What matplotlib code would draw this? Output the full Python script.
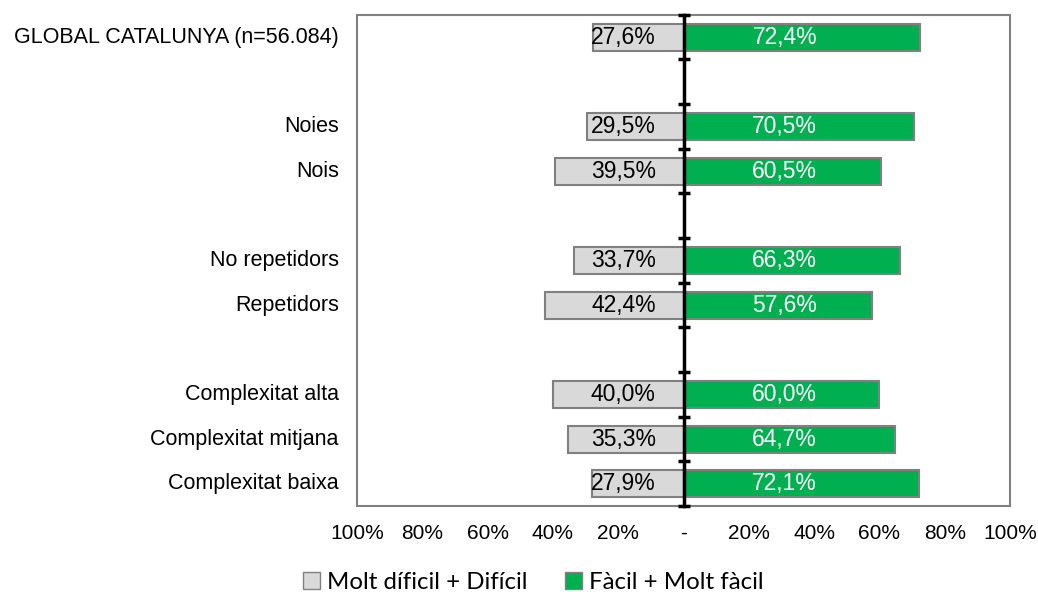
import matplotlib.pyplot as plt
from matplotlib.patches import Rectangle, Patch
from matplotlib.transforms import blended_transform_factory

# rows from top to bottom, '' = empty spacer row
categories = ['GLOBAL CATALUNYA (n=56.084)', '', 'Noies', 'Nois', '',
              'No repetidors', 'Repetidors', '',
              'Complexitat alta', 'Complexitat mitjana', 'Complexitat baixa']
dificil = [27.6, None, 29.5, 39.5, None, 33.7, 42.4, None, 40.0, 35.3, 27.9]
facil = [72.4, None, 70.5, 60.5, None, 66.3, 57.6, None, 60.0, 64.7, 72.1]
xticks = [-100, -80, -60, -40, -20, 0, 20, 40, 60, 80, 100]
xticklabels = ['100%', '80%', '60%', '40%', '20%', '-', '20%', '40%', '60%', '80%', '100%']
legend_labels = ['Molt díficil + Difícil', 'Fàcil + Molt fàcil']

grey = '#d9d9d9'
green = '#00b050'
edge = '#808080'

plt.rcParams['font.family'] = ['Liberation Sans', 'DejaVu Sans']

fig = plt.figure(figsize=(10.38, 5.92), dpi=100)
ax = fig.add_axes([0.344, 0.145, 0.629, 0.830])

for i, (d, f) in enumerate(zip(dificil, facil)):
    if d is None:
        continue
    ax.barh(i, -d, height=0.6, color=grey, edgecolor=edge, linewidth=1.5, zorder=2)
    ax.barh(i, f, height=0.6, color=green, edgecolor=edge, linewidth=1.5, zorder=2)
    ax.text(-8.5, i, ('%.1f%%' % d).replace('.', ','), ha='right', va='center',
            fontsize=16.5, color='black', zorder=3)
    ax.text(31, i, ('%.1f%%' % f).replace('.', ','), ha='center', va='center',
            fontsize=16.5, color='white', zorder=3)

ax.set_xlim(-100, 100)
ax.set_ylim(len(categories) - 0.5, -0.5)

# category labels on the left of the frame
trans = blended_transform_factory(ax.transAxes, ax.transData)
for i, c in enumerate(categories):
    if c:
        ax.text(-0.028, i, c, transform=trans, ha='right', va='center', fontsize=15.5)

# central axis with ticks at the row boundaries
for s in ['top', 'right', 'bottom']:
    ax.spines[s].set_visible(False)
ax.spines['left'].set_position(('data', 0))
ax.spines['left'].set_color('black')
ax.spines['left'].set_linewidth(2.5)
ax.spines['left'].set_zorder(4)
ax.set_yticks([i - 0.5 for i in range(len(categories) + 1)])
ax.tick_params(axis='y', direction='inout', length=9, width=2.5, labelleft=False)

ax.set_xticks(xticks)
ax.set_xticklabels(xticklabels, fontsize=15)
ax.tick_params(axis='x', length=0, pad=13)

ax.add_patch(Rectangle((0, 0), 1, 1, transform=ax.transAxes, fill=False,
                       edgecolor=edge, linewidth=1.5, zorder=1, clip_on=False))

handles = [Patch(facecolor=grey, edgecolor=edge), Patch(facecolor=green, edgecolor=edge)]
fig.legend(handles, legend_labels, loc='center', bbox_to_anchor=(0.514, 0.016), ncol=2,
           frameon=False, prop={'family': 'Lato', 'size': 17.3}, handlelength=0.7,
           handleheight=0.7, handletextpad=0.3, columnspacing=1.55,
           borderpad=0, borderaxespad=0)

fig.savefig('out.png', dpi=100)
